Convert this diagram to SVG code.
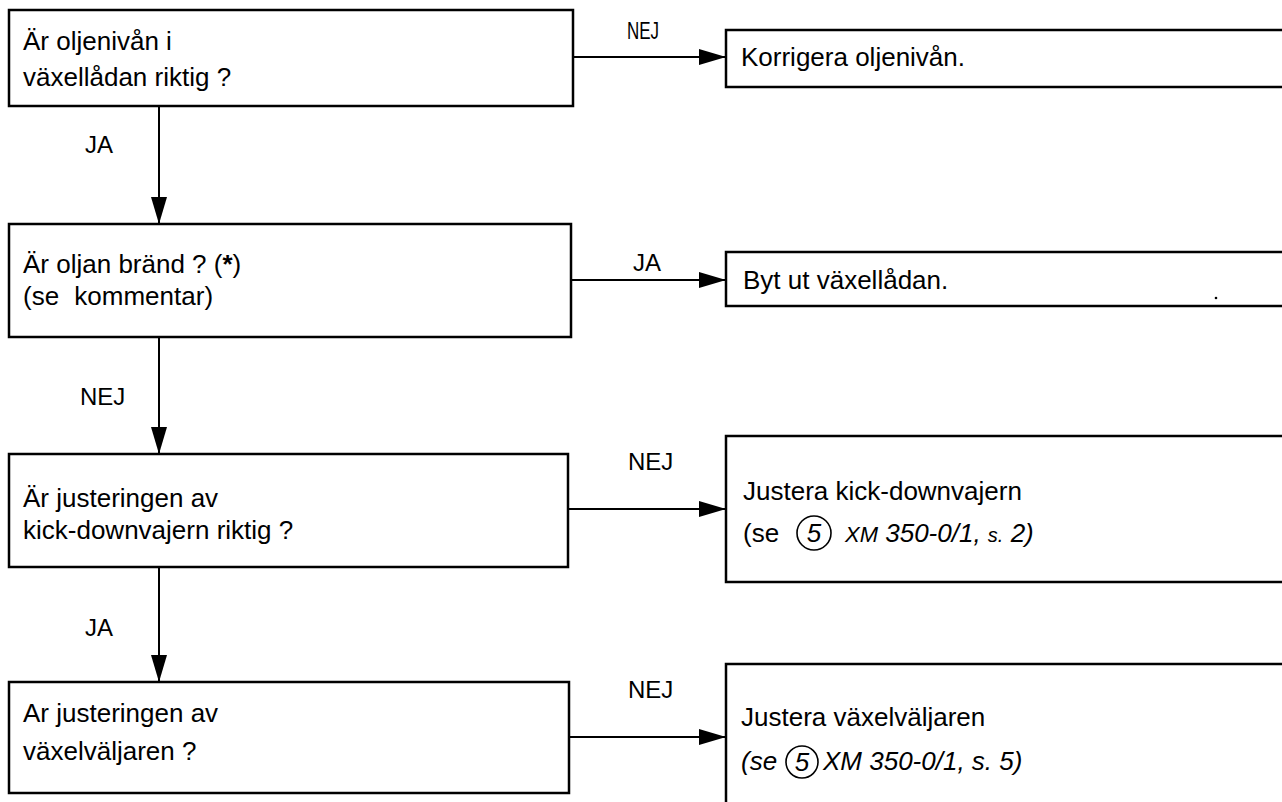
<svg xmlns="http://www.w3.org/2000/svg" width="1282" height="802" viewBox="0 0 1282 802">
<defs>
<style>
.box{fill:#fff;stroke:#000;stroke-width:2.5}
.t{font-family:"Liberation Sans",Arial,sans-serif;font-size:26px;fill:#000}
.lbl{font-family:"Liberation Sans",Arial,sans-serif;font-size:24px;fill:#000}
.it{font-style:italic}
.c{fill:none;stroke:#000;stroke-width:2}
.ring{fill:none;stroke:#000;stroke-width:1.6}
</style>
<marker id="ah" viewBox="0 0 27 16" refX="27" refY="8" markerWidth="27" markerHeight="16" markerUnits="userSpaceOnUse" orient="auto">
<path d="M0,0 L27,8 L0,16 z" fill="#000"/>
</marker>
</defs>
<rect width="1282" height="802" fill="#fff"/>

<g id="connectors">
<line class="c" x1="573" y1="57" x2="726" y2="57" marker-end="url(#ah)"/>
<line class="c" x1="159" y1="106" x2="159" y2="224" marker-end="url(#ah)"/>
<line class="c" x1="571" y1="280" x2="726" y2="280" marker-end="url(#ah)"/>
<line class="c" x1="159" y1="337" x2="159" y2="454" marker-end="url(#ah)"/>
<line class="c" x1="568" y1="509" x2="726" y2="509" marker-end="url(#ah)"/>
<line class="c" x1="159" y1="567" x2="159" y2="682" marker-end="url(#ah)"/>
<line class="c" x1="569" y1="737" x2="726" y2="737" marker-end="url(#ah)"/>
<text class="lbl" x="627" y="39" font-size="21" textLength="32" lengthAdjust="spacingAndGlyphs">NEJ</text>
<text class="lbl" x="85" y="153" font-size="25">JA</text>
<text class="lbl" x="633" y="271" font-size="25">JA</text>
<text class="lbl" x="80" y="405" font-size="26">NEJ</text>
<text class="lbl" x="628" y="470">NEJ</text>
<text class="lbl" x="85" y="636" font-size="25">JA</text>
<text class="lbl" x="628" y="698">NEJ</text>
</g>

<g id="q1">
<rect class="box" x="9" y="10" width="564" height="96"/>
<text class="t" x="23" y="50">Är oljenivån i</text>
<text class="t" x="23" y="86">växellådan riktig ?</text>
</g>

<g id="a1">
<rect class="box" x="726" y="30" width="600" height="57"/>
<text class="t" x="741" y="66">Korrigera oljenivån.</text>
</g>

<g id="q2">
<rect class="box" x="9" y="224" width="562" height="113"/>
<text class="t" x="23" y="273">Är oljan bränd ? (<tspan font-weight="bold">*</tspan>)</text>
<text class="t" x="23" y="305">(se <tspan dx="8">kommentar)</tspan></text>
</g>

<g id="a2">
<rect class="box" x="726" y="252" width="600" height="54"/>
<text class="t" x="743" y="289">Byt ut växellådan.</text>
<circle cx="1216" cy="298" r="1.3" fill="#000"/>
</g>

<g id="q3">
<rect class="box" x="9" y="454" width="559" height="113"/>
<text class="t" x="23" y="507">Är justeringen av</text>
<text class="t" x="23" y="539">kick-downvajern riktig ?</text>
</g>

<g id="a3">
<rect class="box" x="726" y="436" width="600" height="146"/>
<text class="t" x="743" y="500">Justera kick-downvajern</text>
<text class="t" x="743" y="542">(se</text>
<circle class="ring" cx="814" cy="533" r="17"/>
<text class="t it" x="814" y="542" text-anchor="middle">5</text>
<text class="t it" x="845" y="542"><tspan font-size="22">XM</tspan> 350-0/1, <tspan font-size="20">s.</tspan> 2)</text>
</g>

<g id="q4">
<rect class="box" x="9" y="682" width="560" height="111"/>
<text class="t" x="23" y="722">Ar justeringen av</text>
<text class="t" x="23" y="760">växelväljaren ?</text>
</g>

<g id="a4">
<rect class="box" x="726" y="664" width="600" height="200"/>
<text class="t" x="741" y="726">Justera växelväljaren</text>
<text class="t it" x="741" y="770">(se</text>
<circle class="ring" cx="802" cy="762" r="16"/>
<text class="t it" x="802" y="771" text-anchor="middle">5</text>
<text class="t it" x="823" y="770">XM 350-0/1, s. 5)</text>
</g>
</svg>
